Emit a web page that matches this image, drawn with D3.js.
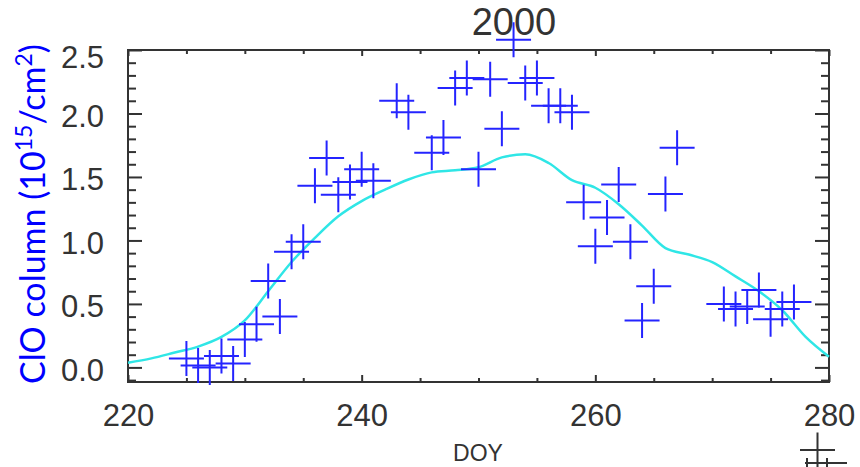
<!DOCTYPE html>
<html>
<head>
<meta charset="utf-8">
<script src="https://cdn.jsdelivr.net/npm/d3@7"></script>
<style>
  html, body { margin: 0; padding: 0; background: #fff; }
  svg { display: block; }
</style>
</head>
<body>
<svg id="chart" width="860" height="467"></svg>
<script>
// ---- data ----
const title = "2000";
const xLabel = "DOY";
const obsDays = [225,226,227,228,229,230,231,232,233,234,235,236,237,238,239,240,241,243,244,246,247,248,249,250,251,252,253,254,255,256,257,258,259,260,261,262,263,264,265,266,267,271,272,273,274,275,276,277];
const obsClO  = [0.07,0.015,0.0,0.09,0.03,0.22,0.34,0.68,0.40,0.91,0.99,1.43,1.65,1.36,1.46,1.56,1.47,2.10,2.01,1.69,1.81,2.20,2.28,1.56,2.27,1.88,2.58,2.24,2.28,2.06,2.06,2.01,1.30,0.955,1.18,1.44,0.99,0.37,0.64,1.365,1.73,0.50,0.46,0.48,0.61,0.38,0.46,0.515];
const fitDays = [220,222,224,226,228,230,232,234,236,238,240,242,244,246,248,250,252,254,256,258,260,262,264,266,268,270,272,274,276,278,280];
const fitClO  = [0.037,0.071,0.117,0.164,0.24,0.37,0.60,0.83,1.02,1.19,1.31,1.40,1.48,1.536,1.552,1.576,1.654,1.678,1.61,1.475,1.415,1.285,1.117,0.94,0.889,0.83,0.717,0.60,0.45,0.24,0.084];
const xTickLabels = [220, 240, 260, 280];
const xMinorTicks = d3.range(225, 280, 5);
const yTickLabels = [0.0, 0.5, 1.0, 1.5, 2.0, 2.5];
const yMinorTicks = d3.range(-1, 26).map(d => d / 10);

// ---- layout ----
const L = 128, R = 829, T = 50, B = 382;
const svg = d3.select("#chart");
const x = d3.scaleLinear().domain([220, 280]).range([L, R]);
const y = d3.scaleLinear().domain([-0.115, 2.5]).range([B, T]);
const axisColor = "#333";
const font = "'Liberation Sans', Arial, sans-serif";

// bottom axis (major with labels)
const gB = svg.append("g").attr("transform", `translate(0,${B})`)
  .call(d3.axisBottom(x).tickValues(xTickLabels).tickSizeInner(-7).tickSizeOuter(0).tickPadding(22).tickFormat(d3.format("d")));
svg.append("g").attr("transform", `translate(0,${B})`)
  .call(d3.axisBottom(x).tickValues(xMinorTicks.filter(d => !xTickLabels.includes(d))).tickSizeInner(-4).tickSizeOuter(0).tickFormat(""));
// top axis (ticks only)
svg.append("g").attr("transform", `translate(0,${T})`)
  .call(d3.axisTop(x).tickValues(xTickLabels).tickSizeInner(-6).tickSizeOuter(0).tickFormat(""));
svg.append("g").attr("transform", `translate(0,${T})`)
  .call(d3.axisTop(x).tickValues(xMinorTicks.filter(d => !xTickLabels.includes(d))).tickSizeInner(-4).tickSizeOuter(0).tickFormat(""));
// left axis
const gL = svg.append("g").attr("transform", `translate(${L},0)`)
  .call(d3.axisLeft(y).tickValues(yTickLabels).tickSizeInner(-14).tickSizeOuter(0).tickPadding(24).tickFormat(d3.format(".1f")));
svg.append("g").attr("transform", `translate(${L},0)`)
  .call(d3.axisLeft(y).tickValues(yMinorTicks.filter(d => !yTickLabels.some(v => Math.abs(v - d) < 1e-9))).tickSizeInner(-8).tickSizeOuter(0).tickFormat(""));
// right axis
svg.append("g").attr("transform", `translate(${R},0)`)
  .call(d3.axisRight(y).tickValues(yTickLabels).tickSizeInner(-14).tickSizeOuter(0).tickFormat(""));
svg.append("g").attr("transform", `translate(${R},0)`)
  .call(d3.axisRight(y).tickValues(yMinorTicks.filter(d => !yTickLabels.some(v => Math.abs(v - d) < 1e-9))).tickSizeInner(-8).tickSizeOuter(0).tickFormat(""));

svg.selectAll(".domain").remove();
svg.selectAll(".tick line").attr("stroke", axisColor).attr("stroke-width", 2);
svg.selectAll(".tick text").attr("fill", axisColor).style("font-family", font).style("font-size", "31px");
gB.selectAll(".tick text").attr("dy", "0.71em").attr("y", 22);
gL.selectAll(".tick text").attr("dy", d => d === 2.5 ? "0.55em" : "0.42em");

// frame
svg.append("rect").attr("x", L).attr("y", T).attr("width", R - L).attr("height", B - T)
  .attr("fill", "none").attr("stroke", axisColor).attr("stroke-width", 2);

// fitted curve
svg.append("path")
  .datum(fitDays.map((d, i) => [d, fitClO[i]]))
  .attr("fill", "none").attr("stroke", "#2fe6e6").attr("stroke-width", 2.5)
  .attr("d", d3.line().x(d => x(d[0])).y(d => y(d[1])).curve(d3.curveMonotoneX));

// observation crosses
const arm = 17.5;
svg.append("g").selectAll("path")
  .data(obsDays.map((d, i) => [d, obsClO[i]]))
  .join("path")
  .attr("transform", d => `translate(${x(d[0])},${y(d[1])})`)
  .attr("d", `M${-arm},0H${arm}M0,${-arm}V${arm}`)
  .attr("stroke", "#2424ff").attr("stroke-width", 2).attr("fill", "none");

// title
svg.append("text").attr("x", 514).attr("y", 35).attr("text-anchor", "middle")
  .style("font-family", font).style("font-size", "38px").attr("fill", axisColor).text(title);

// x label
svg.append("text").attr("x", 478).attr("y", 461).attr("text-anchor", "middle")
  .style("font-family", font).style("font-size", "23px").attr("fill", axisColor).text(xLabel);

// y label
const yl = svg.append("text").attr("transform", "translate(45,214) rotate(-90)")
  .attr("text-anchor", "middle").attr("fill", "#0000ff")
  .style("font-family", "Lato, 'Open Sans', sans-serif").style("font-size", "34px");
yl.append("tspan").text("ClO column (10");
yl.append("tspan").attr("dy", -13).style("font-size", "23px").text("15");
yl.append("tspan").attr("dy", 13).text("/cm");
yl.append("tspan").attr("dy", -13).style("font-size", "23px").text("2");
yl.append("tspan").attr("dy", 13).text(")");

// partial legend symbols at lower right (cut off in the reference)
const legendMarks = [[817.5, 450]];
svg.append("g").selectAll("path").data(legendMarks).join("path")
  .attr("transform", d => `translate(${d[0]},${d[1]})`)
  .attr("d", `M${-arm},0H${arm}M0,${-arm}V${arm}`)
  .attr("stroke", axisColor).attr("stroke-width", 2);
svg.append("path").attr("d", "M805,463H847M807,458V467M827,458V467")
  .attr("stroke", axisColor).attr("stroke-width", 2).attr("fill", "none");
</script>
</body>
</html>
